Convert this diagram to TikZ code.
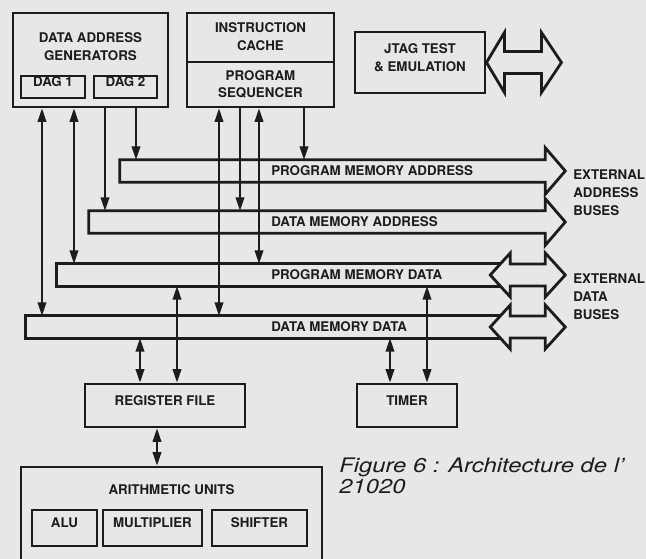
\documentclass[tikz,border=0pt]{standalone}
\usepackage{fontspec}
\setmainfont{TeX Gyre Heros}
\usetikzlibrary{arrows.meta,calc,fit}
\definecolor{bg}{RGB}{229,232,231}
\definecolor{ink}{RGB}{28,28,32}
\begin{document}
\begin{tikzpicture}[x=0.75pt,y=-0.75pt,
 box/.style={draw=ink,line width=2.2pt,inner sep=0pt,text=ink,align=center,
   font=\fontsize{10}{12.75}\selectfont\bfseries},
 barnode/.style={inner sep=0pt},
 bus/.style={draw=ink,line width=2.1pt,line join=miter},
 wire/.style={draw=ink,line width=1.1pt},
 tipend/.style={-{Triangle[length=10pt,width=6.5pt]}},
 tipboth/.style={{Triangle[length=10pt,width=6.5pt]}-{Triangle[length=10pt,width=6.5pt]}},
 lbl/.style={font=\fontsize{10}{13.5}\selectfont\bfseries,text=ink,inner sep=0pt,align=left},
 captxt/.style={font=\fontsize{15}{18}\selectfont\itshape,text=ink,inner sep=0pt,xscale=1.19,transform shape}
]
\fill[bg] (0,0) rectangle (646,559);
\clip (0,0) rectangle (646,559);

% --- top boxes
\node[box,fit={(13,13) (168,107)}] (dag) {};
\node[lbl,align=center] (dagt) at (90.5,46.5) {DATA ADDRESS\\GENERATORS};
\node[box,fit={(21,76) (85,98)}] (dag1) {DAG 1};
\node[box,fit={(94,76) (157,98)}] (dag2) {DAG 2};

\node[box,fit={(187,13) (334,107)}] (seq) {};
\coordinate (divy) at (0,62);
\draw[draw=ink,line width=2.2pt] (seq.west |- divy) -- (seq.east |- divy);
\node[lbl,align=center,font=\fontsize{10}{13.5}\selectfont\bfseries] (ict) at (260.5,37) {INSTRUCTION\\CACHE};
\node[lbl,align=center,font=\fontsize{10}{13}\selectfont\bfseries] (pst) at (260.5,84.5) {PROGRAM\\SEQUENCER};

\node[box,fit={(355,32) (485,93)},font=\fontsize{10}{13.5}\selectfont\bfseries] (jtag) {JTAG TEST\\\& EMULATION};
\draw[bus] (jtag.east) -- ++(18,-30) -- ++(0,19) -- ++(37,0) -- ++(0,-19)
  -- ++(20,30) -- ++(-20,30) -- ++(0,-19) -- ++(-37,0) -- ++(0,19) -- cycle;

% --- buses
\node[barnode,fit={(120,160) (545,182)}] (pma) {};
\draw[bus] (pma.north east) -- ++(0,-12) -- ($(pma.east)+(20,0)$) -- ($(pma.south east)+(0,12)$)
  -- (pma.south east) -- (pma.south west) -- (pma.north west) -- cycle;
\node[lbl,anchor=west] (pmal) at (271,171) {PROGRAM MEMORY ADDRESS};

\node[barnode,fit={(89,211) (545,233)}] (dma) {};
\draw[bus] (dma.north east) -- ++(0,-12) -- ($(dma.east)+(20,0)$) -- ($(dma.south east)+(0,12)$)
  -- (dma.south east) -- (dma.south west) -- (dma.north west) -- cycle;
\node[lbl,anchor=west] (dmal) at (271,222) {DATA MEMORY ADDRESS};

\node[barnode,fit={(57,264) (510,286)}] (pmd) {};
\draw[bus] ($(pmd.north east)+(-10,0)$) -- (pmd.north west) -- (pmd.south west) -- ($(pmd.south east)+(-10,0)$);
\draw[bus] ($(pmd.east)+(-20,0)$) -- ++(20,-22) -- ++(0,11) -- ++(35,0) -- ++(0,-11)
  -- ++(20,22) -- ++(-20,22) -- ++(0,-11) -- ++(-35,0) -- ++(0,11) -- cycle;
\node[lbl,anchor=west] (pmdl) at (271,275) {PROGRAM MEMORY DATA};

\node[barnode,fit={(26,316) (510,338)}] (dmd) {};
\draw[bus] ($(dmd.north east)+(-10,0)$) -- (dmd.north west) -- (dmd.south west) -- ($(dmd.south east)+(-10,0)$);
\draw[bus] ($(dmd.east)+(-20,0)$) -- ++(20,-22) -- ++(0,11) -- ++(35,0) -- ++(0,-11)
  -- ++(20,22) -- ++(-20,22) -- ++(0,-11) -- ++(-35,0) -- ++(0,11) -- cycle;
\node[lbl,anchor=west] (dmdl) at (271,327) {DATA MEMORY DATA};

\node[lbl,anchor=north west,font=\fontsize{10}{13.5}\selectfont\bfseries] (eab) at (573,170) {EXTERNAL\\ADDRESS\\BUSES};
\node[lbl,anchor=north west,font=\fontsize{10}{13.5}\selectfont\bfseries] (edb) at (573,274) {EXTERNAL\\DATA\\BUSES};

% --- lower boxes
\node[box,fit={(85,384) (245,427)}] (rf) {REGISTER FILE};
\node[box,fit={(357,384) (457,427)}] (timer) {TIMER};
\node[box,fit={(21,467) (322,590)}] (au) {};
\node[lbl,align=center] (aut) at (171.5,490) {ARITHMETIC UNITS};
\node[box,fit={(32,510) (97,546)}] (alu) {ALU};
\node[box,fit={(103,510) (202,546)}] (mult) {MULTIPLIER};
\node[box,fit={(212,510) (307,546)}] (shift) {SHIFTER};

% --- caption
\node[captxt,anchor=base west] (cap1) at (339,472) {Figure 6 : Architecture de l'};
\node[captxt,anchor=base west] (cap2) at (339,493) {21020};

% --- wires
\coordinate (xa) at (42,0);
\coordinate (xb) at (74,0);
\coordinate (xc) at (105,0);
\coordinate (xd) at (136,0);
\coordinate (xe) at (219,0);
\coordinate (xf) at (240,0);
\coordinate (xg) at (259,0);
\coordinate (xh) at (304,0);
\coordinate (xi) at (140,0);
\coordinate (xj) at (177,0);
\coordinate (xk) at (390,0);
\coordinate (xl) at (427,0);
\coordinate (xm) at (157,0);

\draw[wire,tipboth] (xa |- dag.south) -- (xa |- dmd.north);
\draw[wire,tipboth] (xb |- dag.south) -- (xb |- pmd.north);
\draw[wire,tipend] (xc |- dag.south) -- (xc |- dma.north);
\draw[wire,tipend] (xd |- dag.south) -- (xd |- pma.north);
\draw[wire,tipboth] (xe |- seq.south) -- (xe |- dmd.north);
\draw[wire,tipend] (xf |- seq.south) -- (xf |- dma.north);
\draw[wire,tipboth] (xg |- seq.south) -- (xg |- pmd.north);
\draw[wire,tipend] (xh |- seq.south) -- (xh |- pma.north);
\draw[wire,tipboth] (xi |- dmd.south) -- (xi |- rf.north);
\draw[wire,tipboth] (xj |- pmd.south) -- (xj |- rf.north);
\draw[wire,tipboth] (xk |- dmd.south) -- (xk |- timer.north);
\draw[wire,tipboth] (xl |- pmd.south) -- (xl |- timer.north);
\draw[wire,tipboth] (xm |- rf.south) -- (xm |- au.north);
\end{tikzpicture}
\end{document}
